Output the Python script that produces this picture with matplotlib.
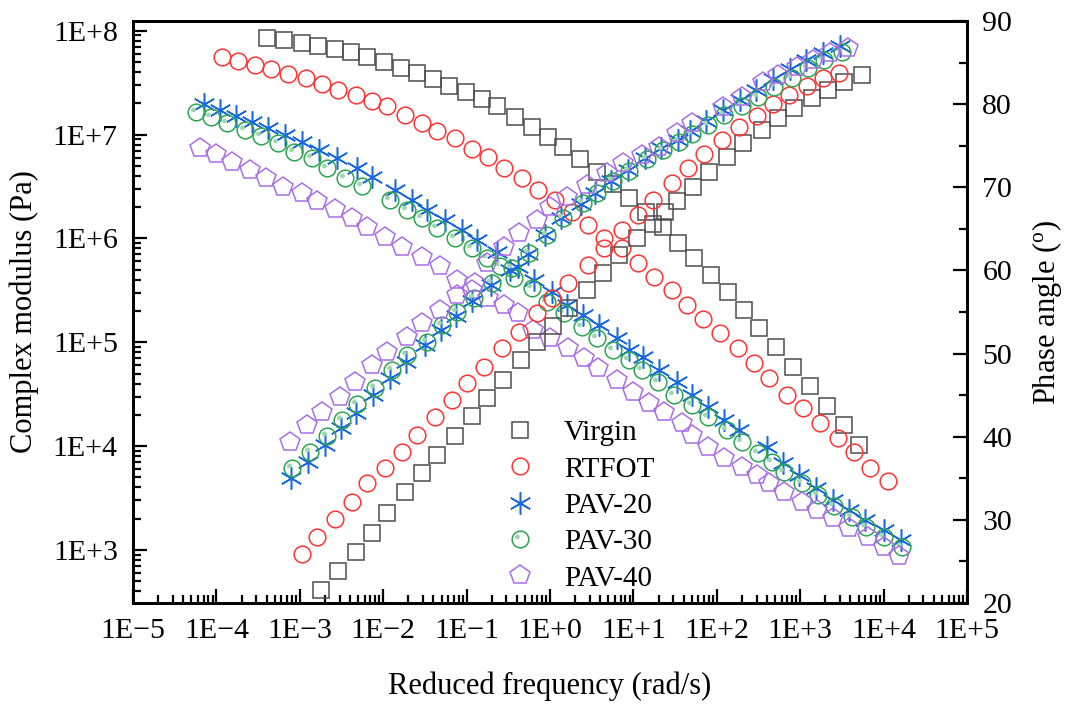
import numpy as np
import matplotlib
matplotlib.use("Agg")
from matplotlib import pyplot as plt
from matplotlib.path import Path
from matplotlib.markers import MarkerStyle
from matplotlib.ticker import LogLocator, FuncFormatter, MultipleLocator, NullFormatter

plt.rcParams['font.family'] = ['Liberation Serif', 'DejaVu Serif']
plt.rcParams['mathtext.fontset'] = 'custom'
plt.rcParams['mathtext.rm'] = 'Liberation Serif'

# master curves, log10(reduced frequency) against log10(|G*|) and phase angle
virgin_logw_g = [-3.39, -3.19, -2.98, -2.78, -2.58, -2.39, -2.19, -1.99, -1.79, -1.60,
                 -1.40, -1.21, -1.01, -0.82, -0.63, -0.42, -0.22, -0.03, 0.16, 0.36,
                 0.56, 0.76, 0.95, 1.15, 1.35, 1.54, 1.73, 1.93, 2.13, 2.32,
                 2.51, 2.71, 2.91, 3.12, 3.32, 3.52, 3.71]
virgin_logg = [7.93, 7.91, 7.88, 7.85, 7.82, 7.79, 7.75, 7.70, 7.64, 7.59,
               7.53, 7.47, 7.41, 7.34, 7.27, 7.17, 7.07, 6.98, 6.88, 6.76,
               6.64, 6.52, 6.39, 6.25, 6.11, 5.96, 5.81, 5.65, 5.48, 5.31,
               5.14, 4.95, 4.76, 4.58, 4.39, 4.20, 4.01]
virgin_logw_d = [-2.75, -2.54, -2.33, -2.14, -1.95, -1.74, -1.54, -1.35, -1.14, -0.94,
                 -0.75, -0.56, -0.35, -0.16, 0.03, 0.23, 0.44, 0.63, 0.83, 1.04,
                 1.23, 1.38, 1.52, 1.71, 1.91, 2.12, 2.31, 2.54, 2.73, 2.93,
                 3.14, 3.33, 3.53, 3.74]
virgin_delta = [21.6, 23.9, 26.1, 28.4, 30.8, 33.4, 35.6, 37.8, 40.1, 42.5,
                44.7, 46.8, 49.2, 51.4, 53.3, 55.5, 57.7, 59.7, 61.9, 63.9,
                65.6, 67.0, 68.3, 70.0, 71.8, 73.6, 75.3, 76.9, 78.3, 79.5,
                80.7, 81.7, 82.7, 83.5]

rtfot_logw_g = [-3.93, -3.74, -3.54, -3.34, -3.14, -2.93, -2.73, -2.54, -2.33, -2.14,
                -1.95, -1.74, -1.54, -1.35, -1.14, -0.93, -0.74, -0.55, -0.34, -0.14,
                0.06, 0.26, 0.45, 0.65, 0.86, 1.05, 1.25, 1.46, 1.64, 1.83,
                2.04, 2.25, 2.44, 2.63, 2.84, 3.03, 3.24, 3.45, 3.64, 3.84, 4.05]
rtfot_logg = [7.75, 7.71, 7.67, 7.63, 7.58, 7.54, 7.49, 7.43, 7.38, 7.32,
              7.27, 7.19, 7.11, 7.03, 6.97, 6.86, 6.78, 6.68, 6.58, 6.47,
              6.37, 6.25, 6.13, 6.00, 5.91, 5.76, 5.63, 5.50, 5.36, 5.22,
              5.09, 4.94, 4.80, 4.66, 4.49, 4.37, 4.22, 4.08, 3.94, 3.79, 3.66]
rtfot_logw_d = [-2.98, -2.79, -2.58, -2.38, -2.19, -1.98, -1.78, -1.59, -1.38, -1.18,
                -0.99, -0.79, -0.58, -0.37, -0.16, 0.02, 0.21, 0.45, 0.65, 0.86,
                1.05, 1.23, 1.46, 1.65, 1.85, 2.06, 2.26, 2.48, 2.67, 2.87,
                3.08, 3.27, 3.47]
rtfot_delta = [25.9, 27.9, 30.1, 32.2, 34.4, 36.2, 38.2, 40.2, 42.4, 44.4,
               46.5, 48.4, 50.7, 52.6, 54.9, 56.7, 58.5, 60.7, 62.7, 64.9,
               66.7, 68.5, 70.5, 72.3, 74.0, 75.7, 77.3, 78.6, 80.0, 81.1,
               82.2, 83.2, 83.8]

pav20_logw_g = [-4.15, -3.96, -3.76, -3.57, -3.38, -3.18, -2.97, -2.77, -2.56, -2.32,
                -2.13, -1.86, -1.66, -1.47, -1.26, -1.06, -0.87, -0.64, -0.39, -0.19,
                0.02, 0.20, 0.39, 0.59, 0.80, 0.95, 1.11, 1.31, 1.52, 1.70,
                1.89, 2.09, 2.27, 2.60, 2.79, 2.99, 3.19, 3.39, 3.59, 3.78,
                4.01, 4.21]
pav20_logg = [7.29, 7.24, 7.18, 7.12, 7.06, 7.00, 6.93, 6.85, 6.77, 6.68,
              6.59, 6.47, 6.37, 6.27, 6.18, 6.08, 5.98, 5.87, 5.72, 5.60,
              5.48, 5.36, 5.26, 5.17, 5.04, 4.93, 4.86, 4.73, 4.62, 4.49,
              4.38, 4.25, 4.16, 3.99, 3.84, 3.72, 3.60, 3.48, 3.39, 3.29,
              3.19, 3.10]
pav20_logw_d = [-3.11, -2.90, -2.70, -2.51, -2.33, -2.12, -1.92, -1.73, -1.50, -1.31,
                -1.13, -0.93, -0.71, -0.48, -0.27, -0.06, 0.13, 0.37, 0.54, 0.73,
                0.93, 1.14, 1.33, 1.53, 1.68, 1.87, 2.07, 2.28, 2.47, 2.67,
                2.88, 3.07, 3.27, 3.48]
pav20_delta = [35.0, 37.0, 39.0, 41.0, 42.9, 45.0, 47.1, 49.0, 51.0, 52.8,
               54.5, 56.3, 58.2, 60.1, 62.0, 64.2, 66.3, 68.0, 69.3, 70.8,
               72.1, 73.5, 74.7, 75.7, 76.8, 78.0, 79.3, 80.5, 81.7, 83.0,
               84.2, 85.3, 86.2, 87.0]

pav30_logw_g = [-4.24, -4.06, -3.87, -3.66, -3.46, -3.26, -3.07, -2.86, -2.67, -2.46,
                -2.25, -1.92, -1.72, -1.54, -1.35, -1.14, -0.94, -0.75, -0.60, -0.43,
                -0.22, -0.04, 0.17, 0.38, 0.56, 0.75, 0.95, 1.10, 1.29, 1.49,
                1.70, 1.89, 2.12, 2.30, 2.49, 2.66, 2.81, 3.02, 3.21, 3.41,
                3.62, 3.79, 4.01, 4.22]
pav30_logg = [7.22, 7.17, 7.11, 7.04, 6.99, 6.92, 6.83, 6.77, 6.68, 6.58,
              6.50, 6.37, 6.27, 6.20, 6.10, 6.00, 5.91, 5.81, 5.73, 5.62,
              5.52, 5.39, 5.28, 5.15, 5.04, 4.93, 4.83, 4.73, 4.62, 4.49,
              4.40, 4.28, 4.16, 4.04, 3.93, 3.85, 3.75, 3.65, 3.53, 3.42,
              3.32, 3.22, 3.13, 3.03]
pav30_logw_d = [-3.09, -2.88, -2.68, -2.49, -2.31, -2.10, -1.90, -1.71, -1.48, -1.29,
                -1.11, -0.91, -0.69, -0.46, -0.25, -0.04, 0.15, 0.39, 0.56, 0.75,
                0.95, 1.16, 1.35, 1.55, 1.70, 1.89, 2.09, 2.30, 2.49, 2.69,
                2.90, 3.09, 3.29, 3.50]
pav30_delta = [36.2, 38.2, 40.1, 42.0, 43.9, 45.9, 48.0, 49.8, 51.4, 53.4,
               55.0, 56.7, 58.5, 60.3, 62.1, 64.2, 66.3, 68.1, 69.3, 70.7,
               72.0, 73.4, 74.5, 75.5, 76.4, 77.5, 78.7, 79.8, 80.9, 82.0,
               83.2, 84.3, 85.3, 86.3]

pav40_logw_g = [-4.20, -4.01, -3.81, -3.60, -3.40, -3.20, -2.98, -2.79, -2.58, -2.38,
                -2.19, -1.98, -1.78, -1.54, -1.32, -1.12, -0.93, -0.74, -0.55, -0.39,
                -0.21, 0.00, 0.21, 0.41, 0.57, 0.80, 0.99, 1.19, 1.37, 1.58,
                1.70, 1.89, 2.09, 2.30, 2.48, 2.63, 2.81, 3.02, 3.20, 3.39,
                3.59, 3.81, 4.01, 4.19]
pav40_logg = [6.87, 6.81, 6.74, 6.66, 6.58, 6.49, 6.44, 6.36, 6.28, 6.20,
              6.11, 6.01, 5.92, 5.82, 5.73, 5.60, 5.50, 5.43, 5.36, 5.28,
              5.12, 5.04, 4.94, 4.85, 4.75, 4.64, 4.52, 4.42, 4.33, 4.22,
              4.11, 3.99, 3.89, 3.80, 3.72, 3.65, 3.56, 3.46, 3.39, 3.31,
              3.21, 3.13, 3.03, 2.94]
pav40_logw_d = [-3.12, -2.92, -2.73, -2.52, -2.34, -2.14, -1.95, -1.72, -1.53, -1.32,
                -1.11, -0.90, -0.76, -0.55, -0.37, -0.16, 0.00, 0.20, 0.44, 0.68,
                0.87, 1.10, 1.31, 1.52, 1.70, 2.07, 2.30, 2.55, 2.73, 2.96,
                3.15, 3.36, 3.57]
pav40_delta = [39.4, 41.4, 43.0, 44.8, 46.6, 48.6, 50.2, 52.0, 53.7, 55.2,
               57.1, 58.5, 60.9, 62.8, 64.5, 66.1, 67.6, 68.8, 70.3, 71.7,
               72.9, 73.9, 74.9, 76.5, 77.7, 79.7, 80.9, 82.7, 83.5, 84.5,
               85.3, 86.2, 86.8]

labels = ["Virgin", "RTFOT", "PAV-20", "PAV-30", "PAV-40"]
colors = ["#4d4d4d", "#ff3434", "#1767e0", "#2ea552", "#a86ee6"]

# small offset highlight dot for the PAV-30 circles
dot_path = Path.circle(center=(-0.35, 0.3), radius=0.28)
dot_marker = MarkerStyle(dot_path)

fig = plt.figure(figsize=(10.67, 7.11), dpi=100)
ax = fig.add_axes([0.1247, 0.1519, 0.7816, 0.8186])
ax2 = ax.twinx()

series = [
  (virgin_logw_g, virgin_logg, virgin_logw_d, virgin_delta),
  (rtfot_logw_g, rtfot_logg, rtfot_logw_d, rtfot_delta),
  (pav20_logw_g, pav20_logg, pav20_logw_d, pav20_delta),
  (pav30_logw_g, pav30_logg, pav30_logw_d, pav30_delta),
  (pav40_logw_g, pav40_logg, pav40_logw_d, pav40_delta),
]
styles = [
  dict(marker="s", ms=11),
  dict(marker="o", ms=12),
  dict(marker=(6, 2, 0), ms=16),
  dict(marker="o", ms=12),
  dict(marker="p", ms=15),
]

handles = []
for (wg, g, wd, d), lab, col, st in zip(series, labels, colors, styles):
  wg = 10 ** np.array(wg)
  g = 10 ** np.array(g)
  wd = 10 ** np.array(wd)
  kw = dict(ls="none", marker=st["marker"], ms=st["ms"], mfc="none", mec=col, mew=1.1)
  h, = ax.plot(wg, g, label=lab, **kw)
  ax2.plot(wd, d, **kw)
  if lab == "PAV-30":
    dkw = dict(ls="none", marker=dot_marker, ms=st["ms"] * 0.66, mfc="#9fd8ae", mec="none")
    hd, = ax.plot(wg, g, **dkw)
    ax2.plot(wd, d, **dkw)
    handles.append((h, hd))
  else:
    handles.append(h)

ax.set_xscale("log")
ax.set_yscale("log")
ax.set_xlim(1e-5, 1e5)
ax.set_ylim(10 ** 2.49, 10 ** 8.093)
ax2.set_ylim(20, 90)


def exp_label(v, pos):
  e = int(round(np.log10(v)))
  return f"1E{e:+d}".replace("-", "\u2212")


ax.xaxis.set_major_locator(LogLocator(base=10, numticks=20))
ax.xaxis.set_minor_locator(LogLocator(base=10, subs=np.arange(2, 10), numticks=20))
ax.xaxis.set_major_formatter(FuncFormatter(exp_label))
ax.xaxis.set_minor_formatter(NullFormatter())
ax.yaxis.set_major_locator(LogLocator(base=10, numticks=20))
ax.yaxis.set_minor_locator(LogLocator(base=10, subs=np.arange(2, 10), numticks=20))
ax.yaxis.set_major_formatter(FuncFormatter(exp_label))
ax.yaxis.set_minor_formatter(NullFormatter())
ax2.yaxis.set_major_locator(MultipleLocator(10))
ax2.yaxis.set_minor_locator(MultipleLocator(5))

for a in (ax, ax2):
  for s in a.spines.values():
    s.set_linewidth(2.0)

ax.tick_params(which="both", direction="in", top=False, right=False, width=1.6,
               labelsize=21.5)
ax.tick_params(which="major", length=10)
ax.tick_params(which="minor", length=5.5)
ax.tick_params(axis="y", pad=11)
ax.tick_params(axis="x", pad=11)
ax2.tick_params(which="both", direction="in", left=False, width=1.6, labelsize=21.5, pad=11)
ax2.tick_params(which="major", length=10)
ax2.tick_params(which="minor", length=5.5)

ax.set_xlabel("Reduced frequency (rad/s)", fontsize=22, va="center")
ax.xaxis.set_label_coords(0.5, -0.143)
ax.set_ylabel("Complex modulus (Pa)", fontsize=22, va="center")
ax.yaxis.set_label_coords(-0.131, 0.5)
ax2.set_ylabel(r"Phase angle ($\mathregular{^o}$)", fontsize=22, va="center")
ax2.yaxis.set_label_coords(1.096, 0.5)

ax2.legend(handles, labels, loc="upper left", bbox_to_anchor=(0.474, 0.4096),
           bbox_transform=fig.transFigure, frameon=False, fontsize=21,
           handlelength=1.0, handletextpad=1.0, labelspacing=0.34,
           borderpad=0, borderaxespad=0)

plt.savefig("out.png", dpi=100)
